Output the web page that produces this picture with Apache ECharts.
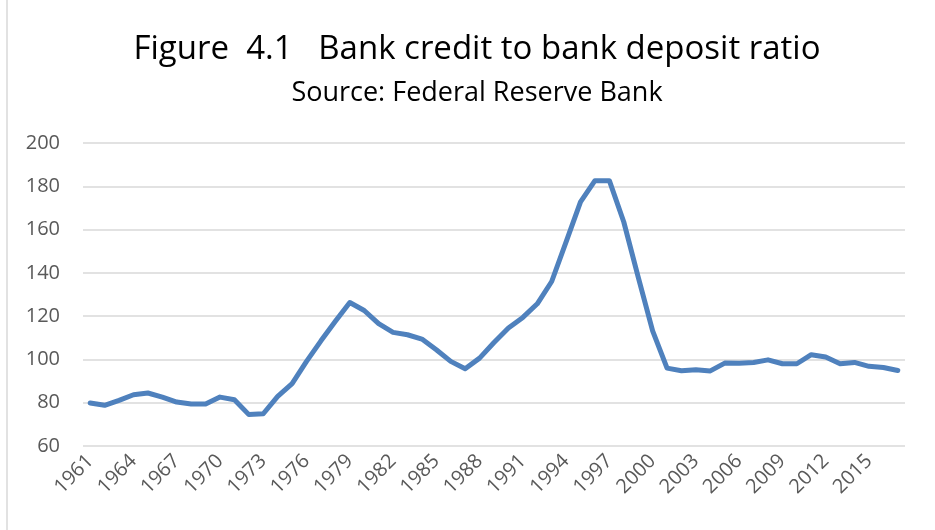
<!DOCTYPE html>
<html>
<head>
<meta charset="utf-8">
<script src="https://cdn.jsdelivr.net/npm/echarts@6/dist/echarts.min.js"></script>
<style>
html,body{margin:0;padding:0;background:#fff;}
#chart{width:935px;height:530px;}
</style>
</head>
<body>
<div id="chart"></div>
<script>
var titleText = 'Figure  4.1   Bank credit to bank deposit ratio';
var subtitleText = 'Source: Federal Reserve Bank';

var years = [];
for (var y = 1961; y <= 2017; y++) years.push(String(y));

var ratio = [
  79.9, 78.8, 81.1, 83.7, 84.5, 82.6, 80.3, 79.4, 79.4, 82.6,
  81.4, 74.5, 74.9, 82.9, 88.8, 99.1, 108.6, 117.6, 126.3, 122.6,
  116.5, 112.5, 111.4, 109.4, 104.5, 99.1, 95.7, 100.6, 107.8, 114.5,
  119.4, 125.7, 136.0, 154.3, 172.8, 182.6, 182.6, 163.5, 138.0, 113.2,
  96.0, 94.8, 95.2, 94.7, 98.3, 98.2, 98.6, 99.8, 98.0, 98.0,
  102.2, 101.1, 98.0, 98.6, 96.8, 96.3, 94.9
];

var yTicks = { min: 60, max: 200, interval: 20 };

var chart = echarts.init(document.getElementById('chart'), null, { renderer: 'canvas' });
var font = 'Open Sans';
chart.setOption({
  animation: false,
  backgroundColor: '#ffffff',
  grid: { left: 83, right: 30, top: 143, bottom: 84, containLabel: false },
  graphic: [
    { type: 'line', shape: { x1: 7, y1: 0, x2: 7, y2: 530 }, style: { stroke: '#d9d9d9', lineWidth: 1.5 } },
    { type: 'text', x: 477, y: 50, style: { text: titleText, font: '33px "' + font + '"', fill: '#000000', textAlign: 'center', textVerticalAlign: 'middle' } },
    { type: 'text', x: 477, y: 93, style: { text: subtitleText, font: '27px "' + font + '"', fill: '#000000', textAlign: 'center', textVerticalAlign: 'middle' } }
  ],
  xAxis: {
    type: 'category',
    data: years,
    boundaryGap: true,
    axisLine: { show: false },
    axisTick: { show: false },
    axisLabel: { interval: 2, rotate: 45, color: '#595959', fontSize: 20, fontFamily: font, margin: 12 },
    splitLine: { show: false }
  },
  yAxis: {
    type: 'value',
    min: yTicks.min, max: yTicks.max, interval: yTicks.interval,
    axisLine: { show: false },
    axisTick: { show: false },
    axisLabel: { color: '#595959', fontSize: 20, fontFamily: font, margin: 23 },
    splitLine: { show: true, lineStyle: { color: '#d9d9d9', width: 1.5 } }
  },
  series: [{
    type: 'line',
    data: ratio,
    symbol: 'none',
    smooth: false,
    lineStyle: { color: '#4f81bd', width: 5, cap: 'round', join: 'round' }
  }]
});
</script>
</body>
</html>
